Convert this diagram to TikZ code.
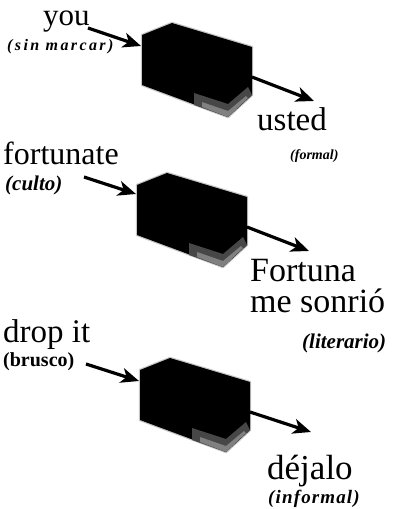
\documentclass[tikz,border=0pt]{standalone}
\usepackage{fontspec}
\setmainfont{Liberation Serif}
\usetikzlibrary{arrows.meta}
\tikzset{
  big/.style={anchor=base west, inner sep=0pt, font=\fontsize{33}{33}\selectfont},
  lab/.style={anchor=base west, inner sep=0pt, font=\fontsize{21}{21}\selectfont\bfseries\itshape},
  arr/.style={line width=3.2pt, -{Stealth[length=18pt,width=15pt,inset=5pt]}},
  cubehalo/.style={draw=black!22, line width=2.4pt, line join=round},
}
\newcommand{\mycube}[2]{%
  \begin{scope}[shift={(#1,#2)}]
    \path[cubehalo] (0,0) -- (30,-12) -- (110,12) -- (110,60) -- (86,82) -- (0,50) -- cycle;
    \fill[black] (0,0) -- (30,-12) -- (110,12) -- (110,60) -- (86,82) -- (0,50) -- cycle;
    \fill[black!72] (52,58) -- (86,69) -- (106,52) -- (110,60) -- (86,82) -- (52,70) -- cycle;
    \fill[black!50] (60,67) -- (86,76) -- (104,61) -- (106,63) -- (86,82) -- (60,72) -- cycle;
  \end{scope}}
\begin{document}
\begin{tikzpicture}[x=1pt,y=-1pt]
\useasboundingbox (0,0) rectangle (395,509);
% cubes
\mycube{142}{35}
\mycube{137}{185}
\mycube{140}{370}
\coordinate (c1in) at (141,46);
\coordinate (c1out) at (252,77);
\coordinate (c2in) at (136,194);
\coordinate (c2out) at (247,227);
\coordinate (c3in) at (139,381);
\coordinate (c3out) at (250,412);
% group 1
\node[big, font=\fontsize{31}{31}\selectfont] (you) at (43,25) {you};
\node[lab, font=\fontsize{16}{16}\selectfont\bfseries\itshape\addfontfeature{LetterSpace=15}] (sinm) at (7,50) {(sin marcar)};
\node[big] (usted) at (257,130) {usted};
\node[lab, font=\fontsize{14}{14}\selectfont\bfseries\itshape] (formal) at (290,159) {(formal)};
\coordinate (y1) at (88,28);
\coordinate (u1) at (314,101);
\draw[arr] (y1) -- (c1in);
\draw[arr] (c1out) -- (u1);
% group 2
\node[big, font=\fontsize{32}{32}\selectfont] (fort) at (3,164) {fortunate};
\node[lab] (culto) at (5,190) {(culto)};
\node[big, font=\fontsize{34}{34}\selectfont] (fortuna) at (250,281) {Fortuna};
\node[big, font=\fontsize{34}{34}\selectfont] (sonrio) at (250,312) {me sonrió};
\node[lab] (lit) at (302,348) {(literario)};
\coordinate (y2) at (84,177);
\coordinate (u2) at (309,251);
\draw[arr] (y2) -- (c2in);
\draw[arr] (c2out) -- (u2);
% group 3
\node[big] (drop) at (3,342) {drop it};
\node[lab, font=\fontsize{20}{20}\selectfont\bfseries] (brusco) at (3,366) {(brusco)};
\coordinate (y3) at (86,364);
\coordinate (u3) at (311,432);
\draw[arr] (y3) -- (c3in);
\draw[arr] (c3out) -- (u3);
\node[big, font=\fontsize{35}{35}\selectfont] (dejalo) at (267,479) {déjalo};
\node[lab, font=\fontsize{19}{19}\selectfont\bfseries\itshape\addfontfeature{LetterSpace=6}] (inf) at (268,503) {(informal)};
\end{tikzpicture}
\end{document}
